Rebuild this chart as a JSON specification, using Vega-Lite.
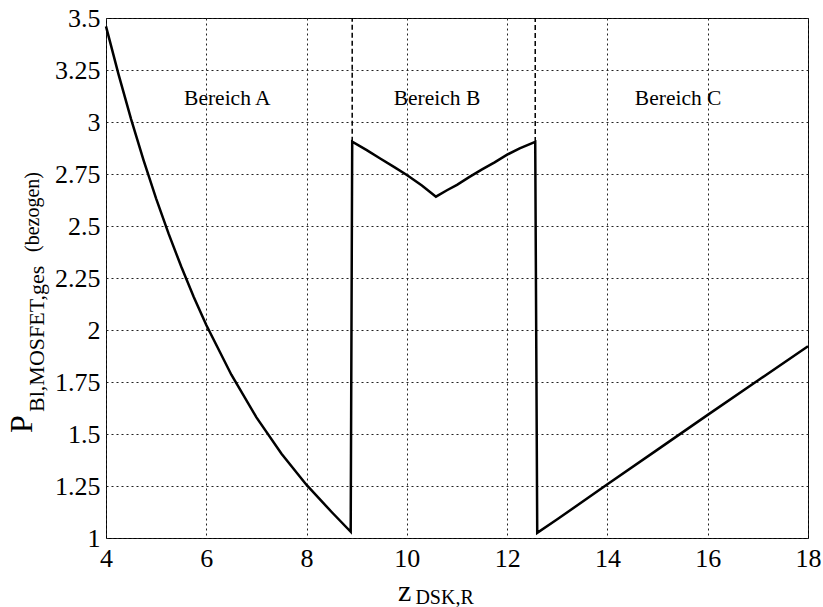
{
  "$schema": "https://vega.github.io/schema/vega-lite/v6.json",
  "width": 702,
  "height": 520,
  "autosize": {"type": "none"},
  "padding": {"left": 106, "top": 18, "right": 15, "bottom": 69},
  "background": "white",
  "config": {
    "view": {"stroke": "black", "strokeWidth": 1},
    "font": "Liberation Serif",
    "axis": {
      "domain": false,
      "ticks": false,
      "grid": true,
      "gridColor": "#222222",
      "gridDash": [2, 3],
      "gridWidth": 1,
      "gridOpacity": 1,
      "labelFont": "Liberation Serif",
      "labelFontSize": 26,
      "labelColor": "black"
    }
  },
  "datasets": {
    "curve": [
      {"i": 1, "z": 4.0, "p": 3.46},
      {"i": 2, "z": 4.25, "p": 3.229},
      {"i": 3, "z": 4.5, "p": 3.014},
      {"i": 4, "z": 4.75, "p": 2.816},
      {"i": 5, "z": 5.0, "p": 2.632},
      {"i": 6, "z": 5.25, "p": 2.462},
      {"i": 7, "z": 5.5, "p": 2.305},
      {"i": 8, "z": 5.75, "p": 2.159},
      {"i": 9, "z": 6.0, "p": 2.024},
      {"i": 10, "z": 6.5, "p": 1.785},
      {"i": 11, "z": 7.0, "p": 1.58},
      {"i": 12, "z": 7.5, "p": 1.405},
      {"i": 13, "z": 8.0, "p": 1.255},
      {"i": 14, "z": 8.5, "p": 1.125},
      {"i": 15, "z": 8.88, "p": 1.03},
      {"i": 16, "z": 8.91, "p": 2.905},
      {"i": 17, "z": 9.2, "p": 2.865},
      {"i": 18, "z": 9.46, "p": 2.826},
      {"i": 19, "z": 9.75, "p": 2.783},
      {"i": 20, "z": 10.0, "p": 2.745},
      {"i": 21, "z": 10.3, "p": 2.695},
      {"i": 22, "z": 10.58, "p": 2.641},
      {"i": 23, "z": 10.8, "p": 2.672},
      {"i": 24, "z": 11.0, "p": 2.698},
      {"i": 25, "z": 11.25, "p": 2.736},
      {"i": 26, "z": 11.5, "p": 2.772},
      {"i": 27, "z": 11.75, "p": 2.806},
      {"i": 28, "z": 12.0, "p": 2.843},
      {"i": 29, "z": 12.25, "p": 2.873},
      {"i": 30, "z": 12.56, "p": 2.904},
      {"i": 31, "z": 12.6, "p": 1.025},
      {"i": 32, "z": 13.0, "p": 1.09},
      {"i": 33, "z": 14.0, "p": 1.258},
      {"i": 34, "z": 15.0, "p": 1.425},
      {"i": 35, "z": 16.0, "p": 1.592},
      {"i": 36, "z": 17.0, "p": 1.757},
      {"i": 37, "z": 18.0, "p": 1.922}
    ],
    "grenzen": [
      {"z": 8.91, "p": 2.905, "p2": 3.5},
      {"z": 12.56, "p": 2.904, "p2": 3.5}
    ],
    "bereiche": [
      {"z": 6.42, "p": 3.082, "name": "Bereich A"},
      {"z": 10.6, "p": 3.082, "name": "Bereich B"},
      {"z": 15.41, "p": 3.082, "name": "Bereich C"}
    ],
    "beschriftung": [{}]
  },
  "layer": [
    {
      "data": {"name": "curve"},
      "mark": {"type": "line", "color": "black", "strokeWidth": 2.5, "clip": false},
      "encoding": {
        "x": {
          "field": "z",
          "type": "quantitative",
          "title": null,
          "scale": {"domain": [4, 18], "nice": false, "zero": false},
          "axis": {"values": [4, 6, 8, 10, 12, 14, 16, 18], "labelPadding": 7, "labelFlush": false, "labelFont": "Liberation Serif", "labelFontSize": 26}
        },
        "y": {
          "field": "p",
          "type": "quantitative",
          "title": null,
          "scale": {"domain": [1, 3.5], "nice": false, "zero": false},
          "axis": {"values": [1, 1.25, 1.5, 1.75, 2, 2.25, 2.5, 2.75, 3, 3.25, 3.5], "labelExpr": "datum.value + ''", "labelPadding": 6, "labelFlush": false, "labelFont": "Liberation Serif", "labelFontSize": 26}
        },
        "order": {"field": "i", "type": "quantitative"}
      }
    },
    {
      "data": {"name": "grenzen"},
      "mark": {"type": "rule", "color": "black", "strokeWidth": 1.5, "strokeDash": [5, 3]},
      "encoding": {
        "x": {"field": "z", "type": "quantitative", "title": null},
        "y": {"field": "p", "type": "quantitative", "title": null},
        "y2": {"field": "p2"}
      }
    },
    {
      "data": {"name": "bereiche"},
      "mark": {"type": "text", "font": "Liberation Serif", "fontSize": 21.5, "color": "black", "align": "center", "baseline": "alphabetic"},
      "encoding": {
        "x": {"field": "z", "type": "quantitative", "title": null},
        "y": {"field": "p", "type": "quantitative", "title": null},
        "text": {"field": "name"}
      }
    },
    {
      "data": {"name": "beschriftung"},
      "mark": {"type": "text", "text": "P", "font": "Liberation Serif", "fontSize": 32, "color": "black", "angle": 270, "align": "left", "baseline": "alphabetic", "clip": false},
      "encoding": {
        "x": {"datum": 2.524, "type": "quantitative", "title": null},
        "y": {"datum": 1.505, "type": "quantitative", "title": null}
      }
    },
    {
      "data": {"name": "beschriftung"},
      "mark": {"type": "text", "text": "Bl,MOSFET,ges", "font": "Liberation Serif", "fontSize": 22, "color": "black", "angle": 270, "align": "left", "baseline": "alphabetic", "clip": false},
      "encoding": {
        "x": {"datum": 2.764, "type": "quantitative", "title": null},
        "y": {"datum": 1.606, "type": "quantitative", "title": null}
      }
    },
    {
      "data": {"name": "beschriftung"},
      "mark": {"type": "text", "text": "(bezogen)", "font": "Liberation Serif", "fontSize": 20, "color": "black", "angle": 270, "align": "left", "baseline": "alphabetic", "clip": false},
      "encoding": {
        "x": {"datum": 2.664, "type": "quantitative", "title": null},
        "y": {"datum": 2.375, "type": "quantitative", "title": null}
      }
    },
    {
      "data": {"name": "beschriftung"},
      "mark": {"type": "text", "text": "z", "font": "Liberation Serif", "fontSize": 30, "color": "black", "align": "left", "baseline": "alphabetic", "clip": false},
      "encoding": {
        "x": {"datum": 9.823, "type": "quantitative", "title": null},
        "y": {"datum": 0.697, "type": "quantitative", "title": null}
      }
    },
    {
      "data": {"name": "beschriftung"},
      "mark": {"type": "text", "text": "DSK,R", "font": "Liberation Serif", "fontSize": 20, "color": "black", "align": "left", "baseline": "alphabetic", "clip": false},
      "encoding": {
        "x": {"datum": 10.17, "type": "quantitative", "title": null},
        "y": {"datum": 0.683, "type": "quantitative", "title": null}
      }
    }
  ]
}
